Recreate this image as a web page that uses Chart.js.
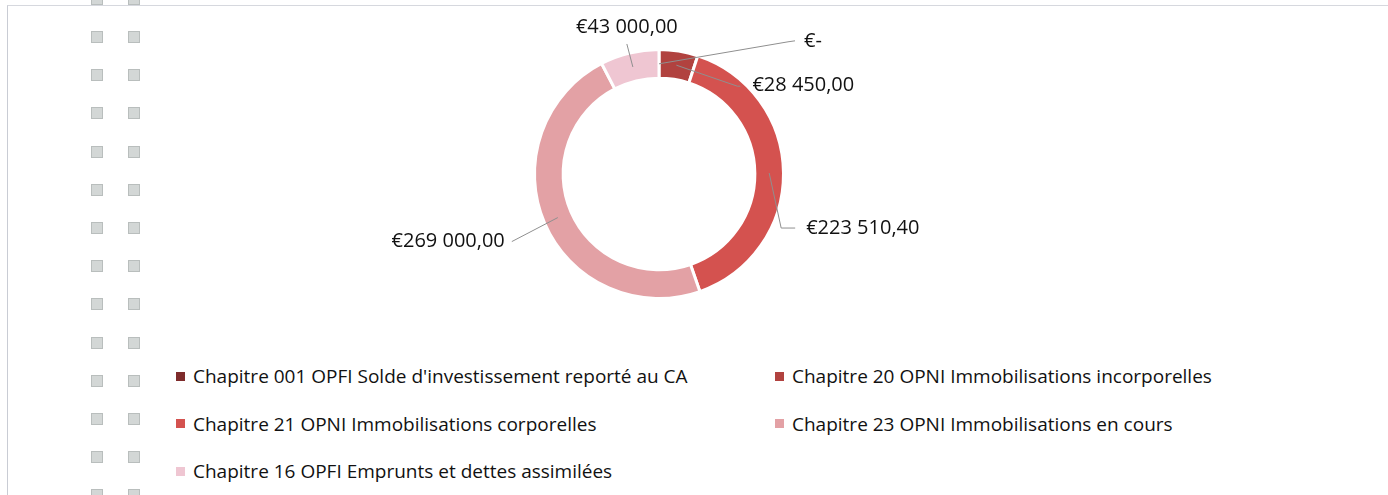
<!DOCTYPE html>
<html lang="fr">
<head>
<meta charset="utf-8">
<title>Dépenses d'investissement</title>
<script src="https://cdn.jsdelivr.net/npm/chart.js@4.4.1/dist/chart.umd.min.js"></script>
<style>
  html, body { margin: 0; padding: 0; background: #fff; }
  #page { position: relative; width: 1388px; height: 495px; overflow: hidden; font-family: "Open Sans", "Noto Sans", sans-serif; }
  #frame { position: absolute; left: 7px; top: 5px; right: -2px; bottom: -2px; border-left: 1px solid #c9ccd4; border-top: 1px solid #d6d8de; }
  .mark { position: absolute; width: 10px; height: 10px; background: #d3d7d6; border: 1px solid #b9bebd; }
  #chart-box { position: absolute; left: 0; top: 0; width: 1388px; height: 350px; }
  #legend { position: absolute; left: 176px; top: 360px; width: 1150px; display: grid; grid-template-columns: 599px 520px; grid-auto-rows: 47.5px; }
  .item { display: flex; align-items: center; font-size: 19px; color: #111; height: 32px; }
  .item .box { width: 9px; height: 9px; margin-right: 8px; flex: none; }
</style>
</head>
<body>
<div id="page">
  <div id="frame"></div>
  <div id="chart-box"><canvas id="donut"></canvas></div>
  <div id="legend"></div>
</div>
<script>
const categories = [
  "Chapitre 001 OPFI Solde d'investissement reporté au CA",
  "Chapitre 20 OPNI Immobilisations incorporelles",
  "Chapitre 21 OPNI Immobilisations corporelles",
  "Chapitre 23 OPNI Immobilisations en cours",
  "Chapitre 16 OPFI Emprunts et dettes assimilées"
];
const amounts = [0, 28450, 223510.40, 269000, 43000];
const colors = ['#7e2b2b', '#b1423f', '#d4524f', '#e3a1a5', '#efc6d2'];

// leader line bends and text spots, offsets from the ring midpoint of each slice
const labelSpots = [
  { path: [[129, -22], [136, -23]], text: [145, -23], align: 'left' },
  { path: [[61, 21], [64, 21]], text: [76, 20], align: 'left' },
  { path: [[12, 55], [26, 55]], text: [37, 55], align: 'left' },
  { path: [[-46, 24]], text: [-53, 24], align: 'right' },
  { path: [[-6, -23]], text: [-6, -40], align: 'center' }
];

function euro(v) {
  if (!v) return '€-';
  const parts = v.toFixed(2).split('.');
  const ent = parts[0].replace(/\B(?=(\d{3})+(?!\d))/g, ' ');
  return '€' + ent + ',' + parts[1];
}

// gray scan marks down the left margin
const page = document.getElementById('page');
for (let i = -1; i < 14; i++) {
  [91, 128].forEach((x) => {
    const m = document.createElement('div');
    m.className = 'mark';
    m.style.left = x + 'px';
    m.style.top = (31 + i * 38.2) + 'px';
    page.appendChild(m);
  });
}

const legend = document.getElementById('legend');
categories.forEach((c, i) => {
  const it = document.createElement('div');
  it.className = 'item';
  it.innerHTML = '<span class="box" style="background:' + colors[i] + '"></span><span>' + c + '</span>';
  legend.appendChild(it);
});

const leaderLabels = {
  id: 'leaderLabels',
  afterDatasetsDraw(chart) {
    const ctx = chart.ctx;
    const meta = chart.getDatasetMeta(0);
    ctx.save();
    ctx.font = '20px "Open Sans", "Noto Sans", sans-serif';
    ctx.textBaseline = 'middle';
    meta.data.forEach((arc, i) => {
      const p = arc.getProps(['x', 'y', 'startAngle', 'endAngle', 'innerRadius', 'outerRadius'], true);
      const a = (p.startAngle + p.endAngle) / 2;
      const r = (p.innerRadius + p.outerRadius) / 2;
      const ax = p.x + Math.cos(a) * r;
      const ay = p.y + Math.sin(a) * r;
      const spot = labelSpots[i];
      ctx.strokeStyle = '#8f8f8f';
      ctx.lineWidth = 1;
      ctx.beginPath();
      ctx.moveTo(ax, ay);
      spot.path.forEach(([dx, dy]) => ctx.lineTo(ax + dx, ay + dy));
      ctx.stroke();
      ctx.fillStyle = '#111';
      ctx.textAlign = spot.align;
      ctx.fillText(euro(amounts[i]), ax + spot.text[0], ay + spot.text[1]);
    });
    ctx.restore();
  }
};

new Chart(document.getElementById('donut'), {
  type: 'doughnut',
  data: {
    labels: categories,
    datasets: [{
      data: amounts,
      backgroundColor: colors,
      borderColor: '#ffffff',
      borderWidth: 3
    }]
  },
  options: {
    responsive: true,
    maintainAspectRatio: false,
    animation: false,
    cutout: '77%',
    layout: { padding: { left: 0, right: 70, top: 48, bottom: 50 } },
    plugins: {
      legend: { display: false },
      tooltip: { enabled: false }
    }
  },
  plugins: [leaderLabels]
});
</script>
</body>
</html>
